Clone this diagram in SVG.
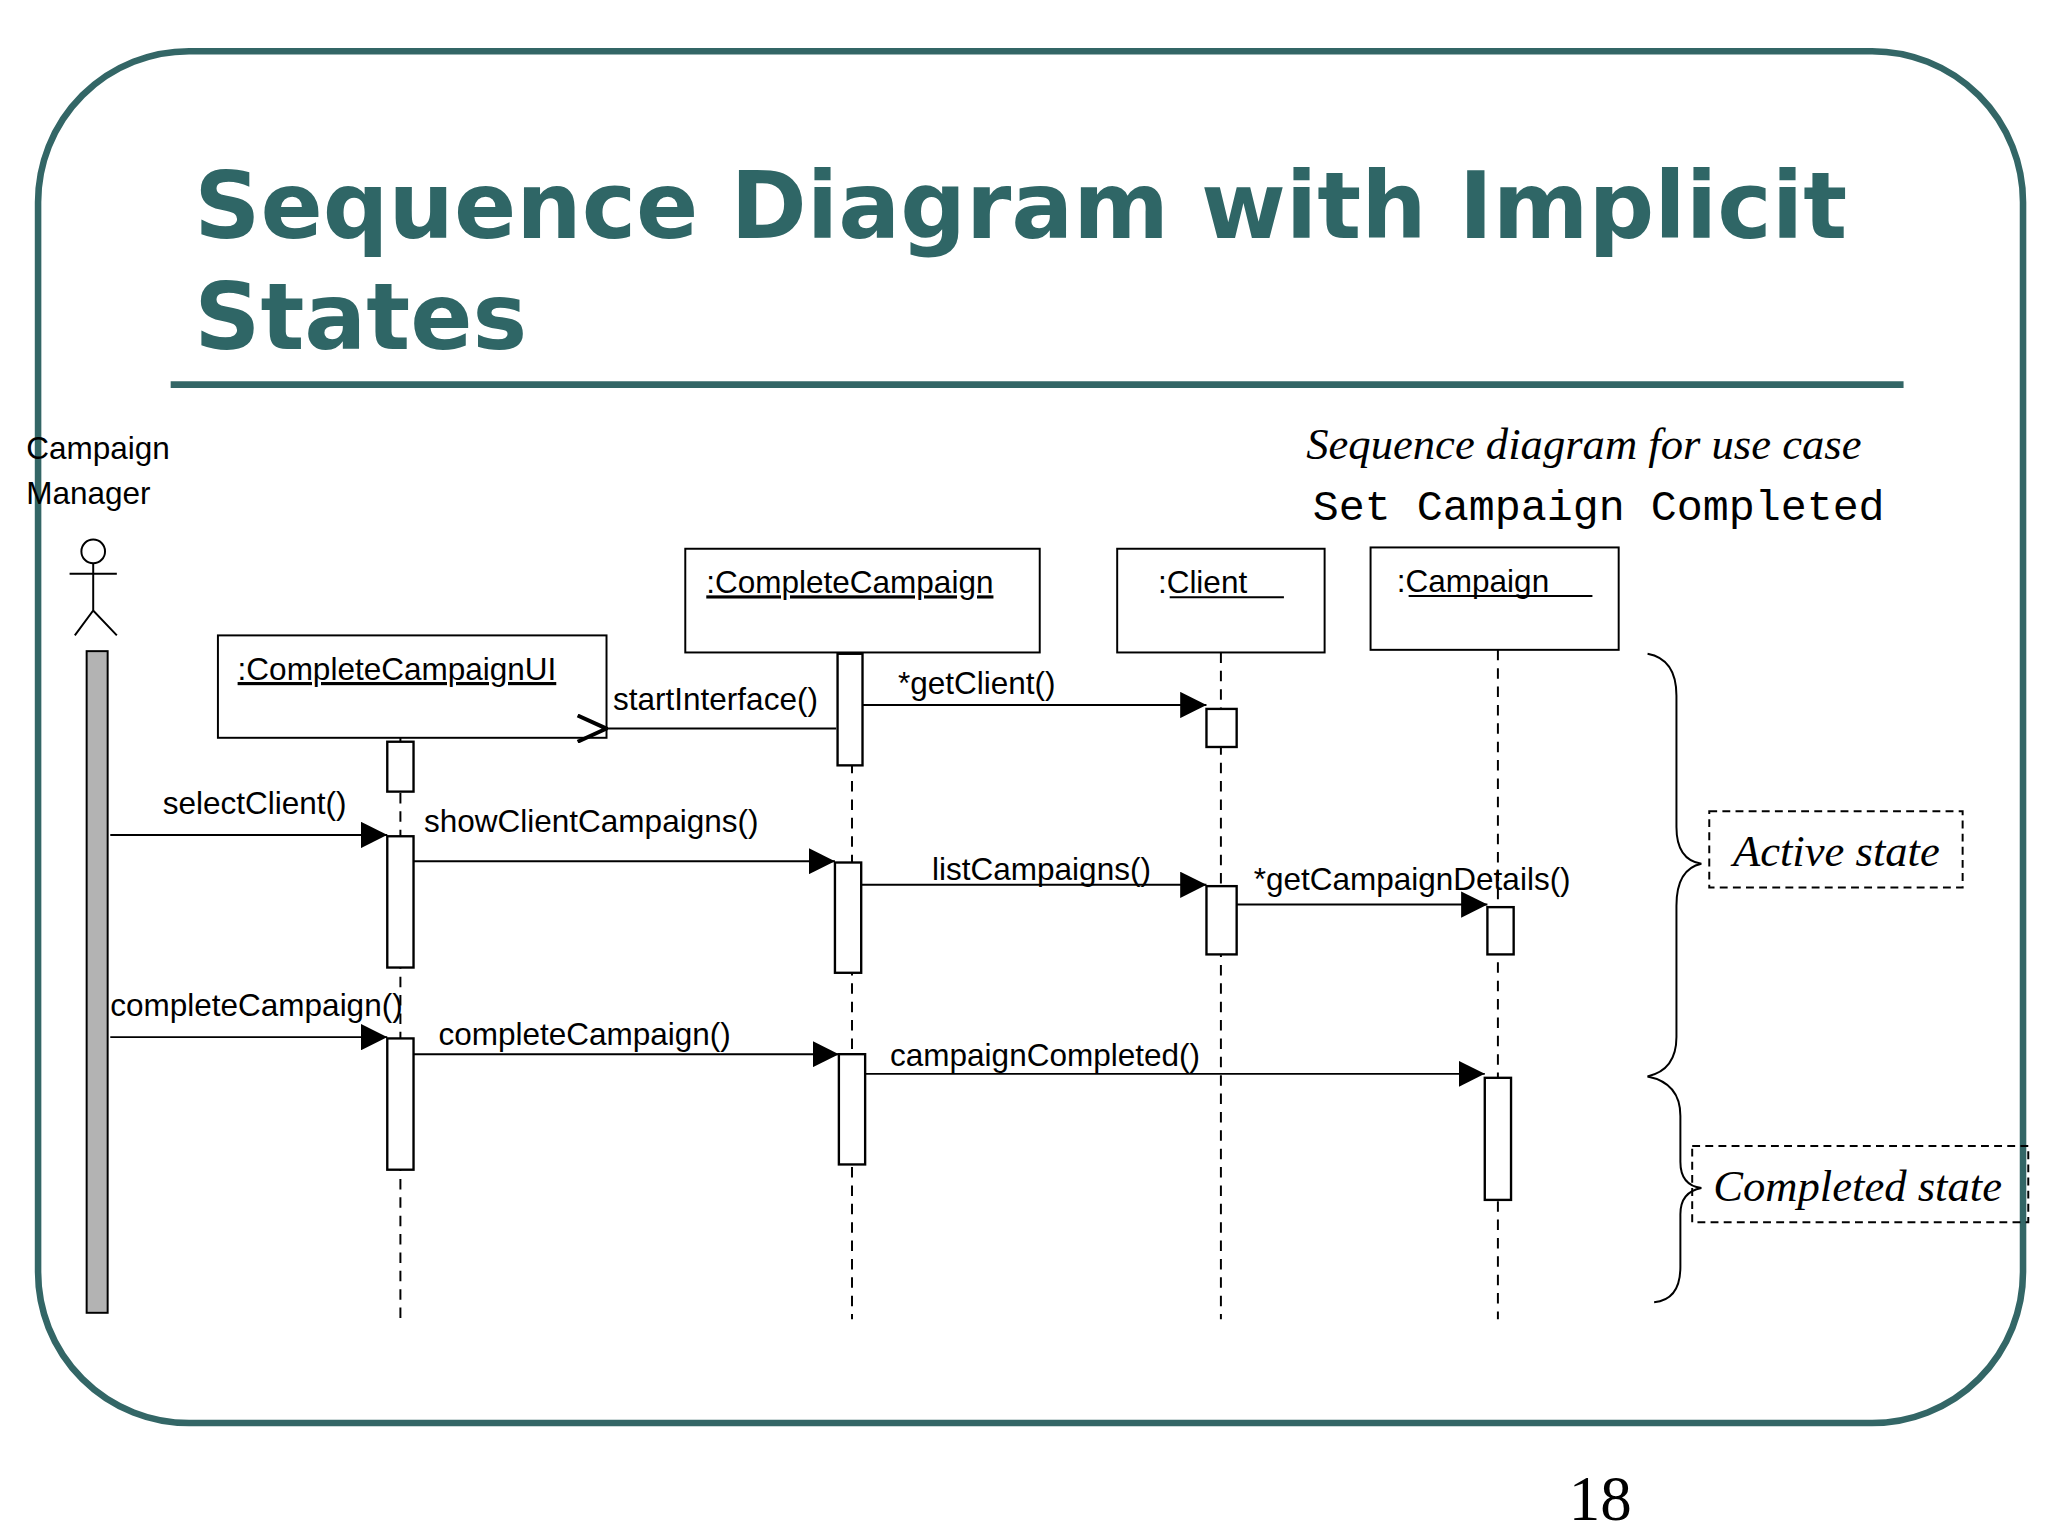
<svg xmlns="http://www.w3.org/2000/svg" width="2048" height="1536" viewBox="0 0 2048 1536">
<defs>
<style>
.t{font-family:"Liberation Sans",Arial,sans-serif;font-size:24px;fill:#000}
.u{text-decoration:underline}
.box{fill:#fff;stroke:#000;stroke-width:1.5}
.act{fill:#fff;stroke:#000;stroke-width:1.8}
.life{stroke:#000;stroke-width:1.5;stroke-dasharray:8,6}
.msg{stroke:#000;stroke-width:1.5;fill:none}
.it{font-family:"Liberation Serif","Times New Roman",serif;font-style:italic;font-size:34px}
.dash{fill:none;stroke:#000;stroke-width:1.5;stroke-dasharray:6,4}
</style>
<marker id="fa" markerWidth="20" markerHeight="20" refX="20" refY="10" orient="auto" markerUnits="userSpaceOnUse"><path d="M0,0 L20,10 L0,20 Z" fill="#000"/></marker>
<marker id="oa" markerWidth="24" markerHeight="22" refX="1" refY="11" orient="auto" markerUnits="userSpaceOnUse"><path d="M23,1 L1,11 L23,21" fill="none" stroke="#000" stroke-width="3"/></marker>
</defs>
<rect width="2048" height="1536" fill="#fff"/>
<g transform="scale(1.3128)">
<rect x="29" y="39" width="1512" height="1045" rx="115" fill="#fff" stroke="#336666" stroke-width="5"/>
<g font-family="'DejaVu Sans',Verdana,sans-serif" font-weight="bold" font-size="70" fill="#2f6666">
<text x="148" y="181">Sequence Diagram with Implicit</text>
<text x="148" y="266">States</text>
</g>
<line x1="130" y1="293" x2="1450" y2="293" stroke="#336666" stroke-width="5"/>
<text x="995" y="350" class="it" font-size="36">Sequence diagram for use case</text>
<text x="1000" y="396" font-family="'Liberation Mono','Courier New',monospace" font-size="33">Set Campaign Completed</text>

<g id="actor">
<text x="20" y="350" class="t" font-size="25">Campaign</text>
<text x="20" y="384" class="t" font-size="25">Manager</text>
<circle cx="71" cy="420" r="9" fill="#fff" stroke="#000" stroke-width="1.5"/>
<path d="M71,429 V465 M53,437 H89 M57,484 L71,465 L89,484" stroke="#000" stroke-width="1.5" fill="none"/>
<rect x="66" y="496" width="16" height="504" fill="#b3b3b3" stroke="#000" stroke-width="1.5"/>
</g>
<g id="ui">
<line x1="305" y1="562" x2="305" y2="1005" class="life"/>
<rect x="166" y="484" width="296" height="78" class="box"/>
<text x="181" y="518" class="t u">:CompleteCampaignUI</text>
<rect x="295" y="565" width="20" height="38" class="act"/>
<rect x="295" y="637" width="20" height="100" class="act"/>
<rect x="295" y="791" width="20" height="100" class="act"/>
</g>
<g id="cc">
<line x1="649" y1="497" x2="649" y2="1005" class="life"/>
<rect x="522" y="418" width="270" height="79" class="box"/>
<text x="538" y="452" class="t u">:CompleteCampaign</text>
<rect x="638" y="498" width="19" height="85" class="act"/>
<rect x="636" y="657" width="20" height="84" class="act"/>
<rect x="639" y="803" width="20" height="84" class="act"/>
</g>
<g id="client">
<line x1="930" y1="497" x2="930" y2="1005" class="life"/>
<rect x="851" y="418" width="158" height="79" class="box"/>
<text x="882" y="452" class="t">:Client</text>
<line x1="891" y1="455" x2="978" y2="455" stroke="#000" stroke-width="1.5"/>
<rect x="919" y="540" width="23" height="29" class="act"/>
<rect x="919" y="675" width="23" height="52" class="act"/>
</g>
<g id="campaign">
<line x1="1141" y1="495" x2="1141" y2="1005" class="life"/>
<rect x="1044" y="417" width="189" height="78" class="box"/>
<text x="1064" y="451" class="t">:Campaign</text>
<line x1="1073" y1="454" x2="1213" y2="454" stroke="#000" stroke-width="1.5"/>
<rect x="1133" y="691" width="20" height="36" class="act"/>
<rect x="1131" y="821" width="20" height="93" class="act"/>
</g>
<g id="connectors">
<line x1="637" y1="555" x2="462" y2="555" class="msg" marker-end="url(#oa)"/>
<text x="467" y="541" class="t">startInterface()</text>
<line x1="657" y1="537" x2="919" y2="537" class="msg" marker-end="url(#fa)"/>
<text x="684" y="529" class="t">*getClient()</text>
<line x1="84" y1="636" x2="295" y2="636" class="msg" marker-end="url(#fa)"/>
<text x="124" y="620" class="t">selectClient()</text>
<line x1="315" y1="656" x2="636" y2="656" class="msg" marker-end="url(#fa)"/>
<text x="323" y="634" class="t">showClientCampaigns()</text>
<line x1="656" y1="674" x2="919" y2="674" class="msg" marker-end="url(#fa)"/>
<text x="710" y="670" class="t">listCampaigns()</text>
<line x1="942" y1="689" x2="1133" y2="689" class="msg" marker-end="url(#fa)"/>
<text x="955" y="678" class="t">*getCampaignDetails()</text>
<line x1="84" y1="790" x2="295" y2="790" class="msg" marker-end="url(#fa)"/>
<text x="84" y="774" class="t">completeCampaign()</text>
<line x1="315" y1="803" x2="639" y2="803" class="msg" marker-end="url(#fa)"/>
<text x="334" y="796" class="t">completeCampaign()</text>
<line x1="659" y1="818" x2="1131" y2="818" class="msg" marker-end="url(#fa)"/>
<text x="678" y="812" class="t">campaignCompleted()</text>
</g>
<g id="states">
<path d="M1255,498 Q1277,502 1277,530 V630 Q1277,655 1296,658 Q1277,662 1277,690 V790 Q1277,815 1255,820" class="msg"/>
<path d="M1255,820 Q1280,825 1280,850 V885 Q1280,903 1296,905 Q1280,908 1280,925 V965 Q1280,990 1260,992" class="msg"/>
<rect x="1302" y="618" width="193" height="58" class="dash"/>
<text x="1320" y="660" class="it">Active state</text>
<rect x="1289" y="873" width="256" height="58" class="dash"/>
<text x="1305" y="915" class="it">Completed state</text>
</g>
<text x="1195" y="1158" font-family="'Liberation Serif','Times New Roman',serif" font-size="48">18</text>
</g>
</svg>
